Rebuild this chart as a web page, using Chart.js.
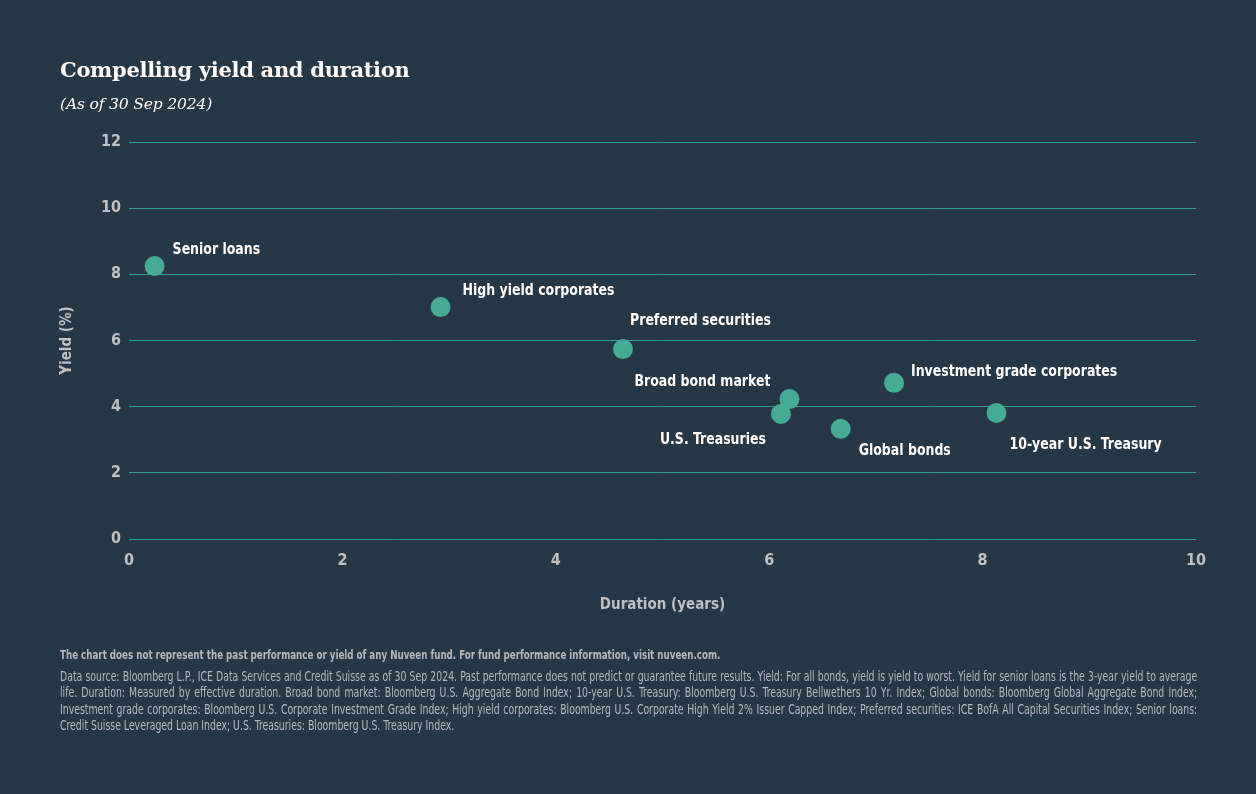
<!DOCTYPE html>
<html>
<head>
<meta charset="utf-8">
<script src="https://cdn.jsdelivr.net/npm/chart.js@4.4.1/dist/chart.umd.min.js"></script>
<style>
  html, body { margin: 0; padding: 0; background: #263746; }
  body { width: 1256px; height: 794px; position: relative; overflow: hidden; }
  #wrap { position: absolute; left: 0; top: 0; width: 1256px; height: 794px; }
  .title { position: absolute; left: 60px; top: 57px; color: #fff; font: bold 21px "DejaVu Serif", serif; letter-spacing: -0.3px; }
  .sub { position: absolute; left: 60px; top: 95px; color: #fff; font: italic 15.6px "DejaVu Serif", serif; letter-spacing: -0.2px; }
  .note { position: absolute; left: 60px; color: #b4bac1; font-family: "DejaVu Sans Condensed", sans-serif; transform-origin: 0 0; }
  .n1 { top: 647px; width: 1500px; font-size: 12.5px; font-weight: bold; transform: scaleX(0.775); }
  .n2 { top: 669px; width: 1458px; font-size: 13.3px; line-height: 16.3px; text-align: justify; transform: scaleX(0.78); }
</style>
</head>
<body>
<div id="wrap"><canvas id="c"></canvas></div>
<div class="title">Compelling yield and duration</div>
<div class="sub">(As of 30 Sep 2024)</div>
<div class="note n1">The chart does not represent the past performance or yield of any Nuveen fund. For fund performance information, visit nuveen.com.</div>
<div class="note n2">Data source: Bloomberg L.P., ICE Data Services and Credit Suisse as of 30 Sep 2024. Past performance does not predict or guarantee future results. Yield: For all bonds, yield is yield to worst. Yield for senior loans is the 3-year yield to average life. Duration: Measured by effective duration. Broad bond market: Bloomberg U.S. Aggregate Bond Index; 10-year U.S. Treasury: Bloomberg U.S. Treasury Bellwethers 10 Yr. Index; Global bonds: Bloomberg Global Aggregate Bond Index; Investment grade corporates: Bloomberg U.S. Corporate Investment Grade Index; High yield corporates: Bloomberg U.S. Corporate High Yield 2% Issuer Capped Index; Preferred securities: ICE BofA All Capital Securities Index; Senior loans: Credit Suisse Leveraged Loan Index; U.S. Treasuries: Bloomberg U.S. Treasury Index.</div>
<script>
const categories = ['Senior loans', 'High yield corporates', 'Preferred securities', 'Broad bond market',
  'U.S. Treasuries', 'Global bonds', 'Investment grade corporates', '10-year U.S. Treasury'];
const duration = [0.24, 2.92, 4.63, 6.19, 6.11, 6.67, 7.17, 8.13];
const yieldPct = [8.25, 7.01, 5.74, 4.23, 3.78, 3.33, 4.72, 3.81];
const xTicks = [0, 2, 4, 6, 8, 10];
const yTicks = [0, 2, 4, 6, 8, 10, 12];

// label placement relative to each dot: [dx, dy, align]
const labelOffsets = [[18, -16, 'left'], [22, -16, 'left'], [7, -28, 'left'], [-19, -17, 'right'],
  [-15, 26, 'right'], [18, 22, 'left'], [17, -11, 'left'], [13, 32, 'left']];

const grey = '#bcc1c6';
const teal = '#45ab97';
const narrow = '"DejaVu Sans Condensed", sans-serif';

const pointLabels = {
  id: 'pointLabels',
  afterDatasetsDraw(chart) {
    const ctx = chart.ctx;
    const meta = chart.getDatasetMeta(0);
    const sx = 0.87;
    ctx.save();
    ctx.fillStyle = '#ffffff';
    ctx.font = 'bold 16px ' + narrow;
    ctx.textBaseline = 'middle';
    meta.data.forEach((pt, i) => {
      const [dx, dy, align] = labelOffsets[i];
      ctx.save();
      ctx.translate(pt.x + dx, pt.y + dy);
      ctx.scale(sx, 1);
      ctx.textAlign = align;
      ctx.fillText(categories[i], 0, 0);
      ctx.restore();
    });
    ctx.restore();
  }
};

new Chart(document.getElementById('c'), {
  type: 'scatter',
  data: {
    datasets: [{
      data: duration.map((d, i) => ({ x: d, y: yieldPct[i] })),
      backgroundColor: teal,
      borderWidth: 0,
      pointRadius: 10,
      pointHoverRadius: 10
    }]
  },
  options: {
    responsive: true,
    maintainAspectRatio: false,
    animation: false,
    events: [],
    layout: { padding: { left: 50, right: 60, top: 142, bottom: 169 } },
    plugins: { legend: { display: false }, tooltip: { enabled: false } },
    scales: {
      x: {
        type: 'linear', min: 0, max: 10,
        afterBuildTicks: s => { s.ticks = xTicks.map(v => ({ value: v })); },
        afterFit: s => { s.height = 86; },
        grid: { display: false },
        border: { display: false },
        ticks: { color: grey, padding: 4, font: { family: narrow, size: 16, weight: 'bold' } },
        title: { display: true, text: 'Duration (years)', color: grey, padding: { top: 0, bottom: 11 },
          font: { family: narrow, size: 15, weight: 'bold' } }
      },
      y: {
        min: 0, max: 12,
        afterBuildTicks: s => { s.ticks = yTicks.map(v => ({ value: v })); },
        afterFit: s => { s.width = 79; },
        grid: { color: '#3a9a8c', lineWidth: 1, drawTicks: false },
        border: { display: false },
        ticks: { color: grey, padding: 8, font: { family: narrow, size: 16, weight: 'bold' } },
        title: { display: true, text: 'Yield (%)', color: grey, padding: { top: 8, bottom: 0 },
          font: { family: narrow, size: 15, weight: 'bold' } }
      }
    }
  },
  plugins: [pointLabels]
});
</script>
</body>
</html>
